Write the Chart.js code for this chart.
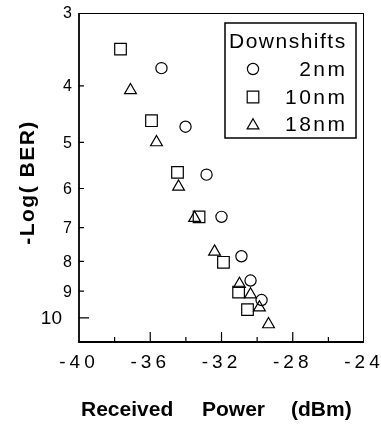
<!DOCTYPE html>
<html>
<head>
<meta charset="utf-8">
<script src="https://cdn.jsdelivr.net/npm/chart.js@4.4.1/dist/chart.umd.min.js"></script>
<style>
  html, body { margin: 0; padding: 0; background: #fff; }
  #wrap { width: 381px; height: 424px; }
</style>
</head>
<body>
<div id="wrap"><canvas id="c" width="381" height="424"></canvas></div>
<script>
// ---- data ----
const seriesNames = ['2nm', '10nm', '18nm'];
const legendTitle = 'Downshifts';
const power2nm  = [-35.37, -34.02, -32.84, -32.00, -30.88, -30.37, -29.75];
const ber2nm    = [3.73, 4.70, 5.68, 6.71, 7.84, 8.63, 9.32];
const power10nm = [-37.67, -35.93, -34.47, -33.26, -31.89, -31.04, -30.54];
const ber10nm   = [3.46, 4.59, 5.63, 6.71, 8.03, 9.03, 9.68];
const power18nm = [-37.11, -35.65, -34.41, -33.51, -32.39, -30.99, -30.37, -29.87, -29.36];
const ber18nm   = [4.07, 5.00, 5.96, 6.74, 7.70, 8.75, 9.12, 9.60, 10.26];
const xTickValues = [-40, -36, -32, -28, -24];
const yTickValues = [3, 4, 5, 6, 7, 8, 9, 10];
const xTitleWords = ['Received', 'Power', '(dBm)'];
const yTitle = '-Log( BER)';

function pts(xs, ys) { return xs.map((x, i) => ({ x: x, y: ys[i] })); }

const FONT = '"Liberation Sans", Arial, Helvetica, sans-serif';

const common = {
  showLine: false,
  borderColor: '#000',
  backgroundColor: 'rgba(0,0,0,0)',
  borderWidth: 1.2,
};

const datasets = [
  Object.assign({ label: seriesNames[0], data: pts(power2nm, ber2nm), pointStyle: 'circle', pointRadius: 5.6 }, common),
  Object.assign({ label: seriesNames[1], data: pts(power10nm, ber10nm), pointStyle: 'rect', pointRadius: 8.2 }, common),
  Object.assign({ label: seriesNames[2], data: pts(power18nm, ber18nm), pointStyle: 'triangle', pointRadius: 6.8 }, common),
];

const decor = {
  id: 'decor',
  afterDraw(chart) {
    const ctx = chart.ctx;
    const a = chart.chartArea;
    const xs = chart.scales.x, ys = chart.scales.y;
    ctx.save();
    ctx.strokeStyle = '#000';
    ctx.fillStyle = '#000';
    // frame
    ctx.lineWidth = 1;
    ctx.beginPath();
    ctx.moveTo(a.left, a.top + 0.5); ctx.lineTo(a.right, a.top + 0.5);
    ctx.moveTo(a.right - 0.5, a.top); ctx.lineTo(a.right - 0.5, a.bottom);
    ctx.stroke();
    ctx.lineWidth = 1.8;
    ctx.beginPath();
    ctx.moveTo(a.left, a.top); ctx.lineTo(a.left, a.bottom);
    ctx.lineTo(a.right, a.bottom);
    ctx.stroke();
    // x ticks (inward)
    ctx.lineWidth = 1.2;
    ctx.beginPath();
    xs.ticks.forEach(t => {
      const v = t.value;
      if (v <= xs.min || v >= xs.max) return;
      const px = xs.getPixelForValue(v);
      const len = (v % 4 === 0) ? 10 : 5;
      ctx.moveTo(px, a.bottom); ctx.lineTo(px, a.bottom - len);
    });
    // y ticks (inward)
    ys.ticks.forEach(t => {
      const v = t.value;
      if (v <= 3) return;
      const py = ys.getPixelForValue(v);
      const len = (v === 10) ? 10 : 5;
      ctx.moveTo(a.left, py); ctx.lineTo(a.left + len, py);
    });
    ctx.stroke();

    // x tick labels
    ctx.font = '19px ' + FONT;
    ctx.letterSpacing = '4px';
    ctx.textAlign = 'center';
    ctx.textBaseline = 'alphabetic';
    xTickValues.forEach(v => {
      ctx.fillText(String(v), xs.getPixelForValue(v), 368);
    });
    // y tick labels
    ctx.letterSpacing = '0px';
    ctx.textAlign = 'right';
    ctx.textBaseline = 'middle';
    yTickValues.forEach(v => {
      const py = ys.getPixelForValue(v);
      if (v === 10) { ctx.font = '19px ' + FONT; ctx.fillText(String(v), a.left - 17, py + 1); }
      else { ctx.font = '16px ' + FONT; ctx.fillText(String(v), a.left - 7, py + 1); }
    });

    // x title
    ctx.font = 'bold 21px ' + FONT;
    ctx.textAlign = 'left';
    ctx.textBaseline = 'alphabetic';
    const wordX = [81, 202, 291];
    xTitleWords.forEach((w, i) => ctx.fillText(w, wordX[i], 416));

    // y title
    ctx.save();
    ctx.translate(28, (a.top + a.bottom) / 2 + 5);
    ctx.rotate(-Math.PI / 2);
    ctx.font = 'bold 21px ' + FONT;
    ctx.letterSpacing = '1.5px';
    ctx.textAlign = 'center';
    ctx.textBaseline = 'middle';
    ctx.fillText(yTitle, 0, 0);
    ctx.restore();

    // legend
    const lb = { l: 225, t: 23, r: 356, b: 138 };
    ctx.lineWidth = 1.5;
    ctx.strokeRect(lb.l, lb.t, lb.r - lb.l, lb.b - lb.t);
    ctx.font = '21px ' + FONT;
    ctx.letterSpacing = '1.5px';
    ctx.textAlign = 'left';
    ctx.textBaseline = 'alphabetic';
    ctx.fillText(legendTitle, 229, 48);
    const rowY = [69, 97, 124];
    const baseY = [76, 104, 131];
    ctx.font = '21px ' + FONT;
    ctx.letterSpacing = '2.5px';
    ctx.textAlign = 'right';
    chart.data.datasets.forEach((ds, i) => {
      ctx.lineWidth = ds.borderWidth;
      ctx.strokeStyle = '#000';
      ctx.fillStyle = 'rgba(0,0,0,0)';
      Chart.helpers.drawPoint(ctx, { pointStyle: ds.pointStyle, radius: ds.pointRadius, rotation: 0, borderWidth: ds.borderWidth }, 253, rowY[i] + (ds.pointStyle === 'triangle' ? 1.5 : 0));
      ctx.fillStyle = '#000';
      ctx.fillText(ds.label, 345 + 2.5, baseY[i]);
    });
    ctx.restore();
  }
};

new Chart(document.getElementById('c'), {
  type: 'scatter',
  data: { datasets: datasets },
  options: {
    responsive: false,
    devicePixelRatio: 1,
    animation: false,
    layout: { padding: { left: 0, top: 13, right: 17, bottom: 0 } },
    plugins: { legend: { display: false }, tooltip: { enabled: false } },
    scales: {
      x: {
        type: 'linear',
        min: -40, max: -24,
        ticks: { display: false, stepSize: 2 },
        grid: { display: false },
        border: { display: false },
        afterFit: s => { s.height = 82; },
      },
      y: {
        type: 'logarithmic',
        reverse: true,
        min: 3, max: 11,
        ticks: { display: false },
        grid: { display: false },
        border: { display: false },
        afterBuildTicks: s => { s.ticks = yTickValues.map(v => ({ value: v })); },
        afterFit: s => { s.width = 79; },
      }
    }
  },
  plugins: [decor]
});
</script>
</body>
</html>
